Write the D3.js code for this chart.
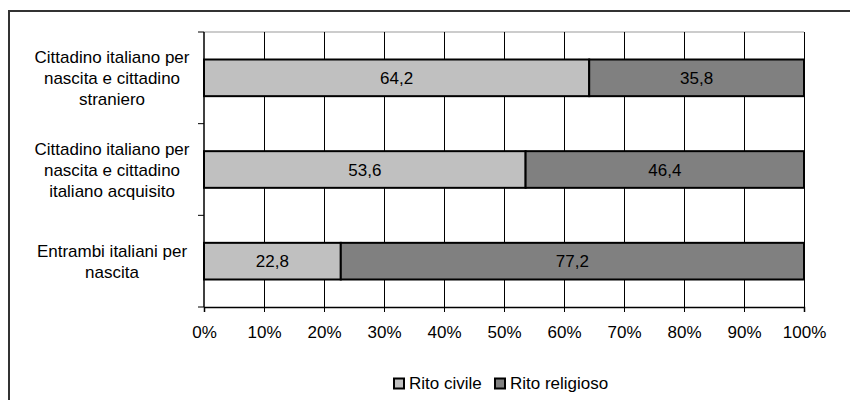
<!DOCTYPE html>
<html lang="it">
<head>
<meta charset="utf-8">
<title>Rito civile / religioso</title>
<script src="https://d3js.org/d3.v7.min.js"></script>
<style>
  body { margin: 0; background: #fff; }
  svg { display: block; font-family: "Liberation Sans", Arial, sans-serif; }
</style>
</head>
<body>
<svg id="chart" width="850" height="400"></svg>
<script>
// dati (dall'alto verso il basso)
const categories = [
  "Cittadino italiano per|nascita e cittadino|straniero",
  "Cittadino italiano per|nascita e cittadino|italiano acquisito",
  "Entrambi italiani per|nascita"
];
const ritoCivile = [64.2, 53.6, 22.8];
const ritoReligioso = [35.8, 46.4, 77.2];
const seriesNames = ["Rito civile", "Rito religioso"];
const xTicks = [0, 10, 20, 30, 40, 50, 60, 70, 80, 90, 100];

const colors = ["#c0c0c0", "#808080"];
const fontSize = 17;

const svg = d3.select("#chart");

// cornice esterna
svg.append("rect")
  .attr("x", 9).attr("y", 11)
  .attr("width", 900).attr("height", 500)
  .attr("fill", "none")
  .attr("stroke", "#333").attr("stroke-width", 2);

const plot = { left: 204, right: 804, top: 32, bottom: 307 };

const x = d3.scaleLinear().domain([0, 100]).range([plot.left, plot.right]);
const y = d3.scaleBand().domain(categories)
  .range([plot.top, plot.bottom])
  .paddingInner(0.6).paddingOuter(0.3);
const yEdges = d3.scaleBand().domain(categories).range([plot.top, plot.bottom]);

// bordo superiore dell'area del grafico
svg.append("line")
  .attr("x1", plot.left).attr("x2", plot.right)
  .attr("y1", plot.top).attr("y2", plot.top)
  .attr("stroke", "#999").attr("stroke-width", 1);

// griglia verticale
svg.append("g")
  .selectAll("line")
  .data(xTicks.slice(1))
  .join("line")
  .attr("x1", d => x(d) + 0.5).attr("x2", d => x(d) + 0.5)
  .attr("y1", plot.top).attr("y2", plot.bottom)
  .attr("stroke", "#000").attr("stroke-width", 1);

// barre impilate
const stacked = categories.map((c, i) => [
  { cat: c, s: 0, x0: 0, x1: ritoCivile[i], v: ritoCivile[i] },
  { cat: c, s: 1, x0: ritoCivile[i], x1: ritoCivile[i] + ritoReligioso[i], v: ritoReligioso[i] }
]).flat();

svg.append("g")
  .selectAll("rect")
  .data(stacked)
  .join("rect")
  .attr("x", d => x(d.x0))
  .attr("y", d => y(d.cat))
  .attr("width", d => x(d.x1) - x(d.x0))
  .attr("height", y.bandwidth())
  .attr("fill", d => colors[d.s])
  .attr("stroke", "#000")
  .attr("stroke-width", 2);

svg.append("g")
  .selectAll("text")
  .data(stacked)
  .join("text")
  .attr("x", d => x((d.x0 + d.x1) / 2))
  .attr("y", d => y(d.cat) + y.bandwidth() / 2 + 6)
  .attr("text-anchor", "middle")
  .attr("font-size", fontSize)
  .attr("fill", "#000")
  .text(d => d3.format(".1f")(d.v).replace(".", ","));

// asse x
const xAxis = svg.append("g")
  .attr("transform", `translate(0,${plot.bottom})`)
  .call(d3.axisBottom(x).tickValues(xTicks).tickSize(5).tickPadding(14)
    .tickFormat(d => d + "%"));
xAxis.select(".domain").attr("stroke", "#000").attr("stroke-width", 1.5);
xAxis.selectAll(".tick line").attr("stroke", "#000");
xAxis.selectAll(".tick text")
  .attr("font-size", fontSize).attr("fill", "#000")
  .attr("font-family", "Liberation Sans, Arial, sans-serif");

// asse y
const yAxisG = svg.append("g");
yAxisG.append("line")
  .attr("x1", plot.left).attr("x2", plot.left)
  .attr("y1", plot.top).attr("y2", plot.bottom)
  .attr("stroke", "#000").attr("stroke-width", 1.5);
const edges = categories.map(c => yEdges(c)).concat([plot.bottom]);
yAxisG.selectAll(".ytick")
  .data(edges)
  .join("line")
  .attr("class", "ytick")
  .attr("x1", plot.left - 6).attr("x2", plot.left)
  .attr("y1", d => d).attr("y2", d => d)
  .attr("stroke", "#000");

// etichette categorie
const lineH = 21;
svg.append("g")
  .selectAll("text")
  .data(categories)
  .join("text")
  .attr("text-anchor", "middle")
  .attr("font-size", fontSize)
  .attr("fill", "#000")
  .each(function (d) {
    const lines = d.split("|");
    const cy = y(d) + y.bandwidth() / 2;
    const t = d3.select(this);
    lines.forEach((ln, k) => {
      t.append("tspan")
        .attr("x", 112)
        .attr("y", cy + 6 + (k - (lines.length - 1) / 2) * lineH)
        .text(ln);
    });
  });

// legenda
const legend = svg.append("g");
const legX = [394, 495];
seriesNames.forEach((name, i) => {
  legend.append("rect")
    .attr("x", legX[i]).attr("y", 378.5)
    .attr("width", 10).attr("height", 10)
    .attr("fill", colors[i])
    .attr("stroke", "#000").attr("stroke-width", 2);
  legend.append("text")
    .attr("x", legX[i] + 15).attr("y", 389)
    .attr("font-size", fontSize).attr("fill", "#000")
    .text(name);
});
</script>
</body>
</html>
